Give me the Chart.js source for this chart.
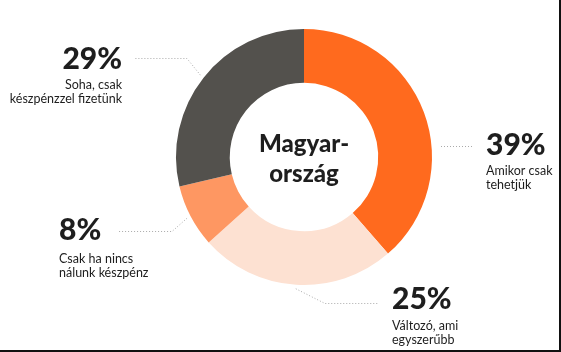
<!DOCTYPE html>
<html>
<head>
<meta charset="utf-8">
<script src="https://cdn.jsdelivr.net/npm/chart.js@4"></script>
<style>
  html, body { margin: 0; padding: 0; background: #fff; }
  #wrap { position: relative; width: 561px; height: 352px; box-sizing: border-box; border-right: 2px solid #111; border-bottom: 2px solid #111; }
  canvas { position: absolute; left: 0; top: 0; }
</style>
</head>
<body>
<div id="wrap"><canvas id="donut" width="561" height="352"></canvas></div>
<script>
const categories = ['Amikor csak tehetjük', 'Változó, ami egyszerűbb', 'Csak ha nincs nálunk készpénz', 'Soha, csak készpénzzel fizetünk'];
const shares = [39, 25, 8, 29];
const labelLines = [
    ['Amikor csak', 'tehetjük'],
    ['Változó, ami', 'egyszerűbb'],
    ['Csak ha nincs', 'nálunk készpénz'],
    ['Soha, csak', 'készpénzzel fizetünk']
];
const centerTitle = ['Magyar-', 'ország'];
const sliceColors = ['#ff6a1e', '#fde1d2', '#fe9762', '#53514d'];

// where each label sits and how its dotted leader runs
const labelLayout = [
    { align: 'left',  x: 486, y: 155, sub: 20, lineY: 146, lineEnd: 474, straight: true },
    { align: 'left',  x: 392, y: 309, sub: 21, lineY: 303, elbowX: 325, lineEnd: 378 },
    { align: 'left',  x: 59,  y: 240, sub: 23, lineY: 231, elbowX: 172, lineEnd: 118 },
    { align: 'right', x: 122, y: 69,  sub: 20, lineY: 58,  elbowX: 187, lineEnd: 135 }
];

const calloutPlugin = {
    id: 'callouts',
    afterDraw(chart) {
        const ctx = chart.ctx;
        const arcs = chart.getDatasetMeta(0).data;
        ctx.save();

        arcs.forEach(function(arc, i) {
            const lay = labelLayout[i];
            const mid = (arc.startAngle + arc.endAngle) / 2;
            const r = arc.outerRadius + 4;

            ctx.beginPath();
            ctx.setLineDash([1, 2]);
            ctx.strokeStyle = '#aaaaaa';
            ctx.lineWidth = 1;
            if (lay.straight) {
                ctx.moveTo(arc.x + arc.outerRadius + 9, lay.lineY + 0.5);
            } else {
                ctx.moveTo(arc.x + Math.cos(mid) * r, arc.y + Math.sin(mid) * r);
                ctx.lineTo(lay.elbowX, lay.lineY + 0.5);
            }
            ctx.lineTo(lay.lineEnd, lay.lineY + 0.5);
            ctx.stroke();
            ctx.setLineDash([]);

            ctx.fillStyle = '#1e1e1e';
            ctx.textAlign = lay.align;
            ctx.textBaseline = 'alphabetic';
            ctx.font = '900 30px Lato';
            ctx.fillText(shares[i] + '%', lay.x, lay.y);
            ctx.font = '12.5px Lato';
            labelLines[i].forEach(function(line, j) {
                ctx.fillText(line, lay.x, lay.y + lay.sub + j * 14);
            });
        });

        const c = arcs[0];
        ctx.textAlign = 'center';
        ctx.font = '900 24px Lato';
        ctx.fillStyle = '#1e1e1e';
        ctx.fillText(centerTitle[0], c.x, 152);
        ctx.fillText(centerTitle[1], c.x, 182);
        ctx.restore();
    }
};

new Chart(document.getElementById('donut'), {
    type: 'doughnut',
    data: {
        labels: categories,
        datasets: [{
            data: shares,
            backgroundColor: sliceColors,
            borderWidth: 0
        }]
    },
    options: {
        responsive: false,
        animation: false,
        cutout: '58%',
        layout: { padding: { left: 176, right: 129, top: 29, bottom: 67 } },
        plugins: {
            legend: { display: false },
            tooltip: { enabled: false }
        }
    },
    plugins: [calloutPlugin]
});
</script>
</body>
</html>
